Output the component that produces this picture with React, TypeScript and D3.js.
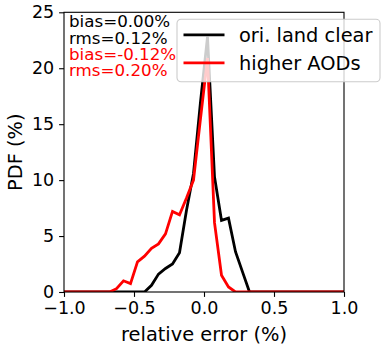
import * as React from "react";
import { useRef, useEffect } from "react";
import * as d3 from "d3";

// bin centre (relative error, %) and PDF (%) for each curve
const landX = [-1.0, -0.425, -0.375, -0.325, -0.275, -0.225, -0.175, -0.125, -0.075, -0.025, 0.025, 0.075, 0.125, 0.175, 0.225, 0.275, 0.325, 1.0];
const landPdf = [0, 0, 0.6, 1.6, 2.1, 2.5, 3.5, 7.3, 10.6, 17.0, 22.8, 10.3, 6.4, 6.6, 3.6, 1.8, 0, 0];

const aodX = [-1.0, -0.675, -0.625, -0.575, -0.525, -0.475, -0.425, -0.375, -0.325, -0.275, -0.225, -0.175, -0.125, -0.075, -0.025, 0.025, 0.075, 0.125, 0.175, 0.225, 1.0];
const aodPdf = [0, 0, 0.3, 1.0, 0.75, 2.7, 3.2, 3.9, 4.3, 5.2, 7.2, 6.9, 8.4, 10.0, 15.5, 20.9, 6.2, 1.5, 0.45, 0, 0];

const xTicks = [-1.0, -0.5, 0.0, 0.5, 1.0];
const yTicks = [0, 5, 10, 15, 20, 25];

const seriesNames = ["ori. land clear", "higher AODs"];
const seriesColors = ["black", "red"];
const statsLines = ["bias=0.00%", "rms=0.12%", "bias=-0.12%", "rms=0.20%"];
const statsColors = ["black", "black", "red", "red"];

const W = 388;
const H = 351;

export default function App() {
  const ref = useRef<SVGSVGElement>(null);

  useEffect(() => {
    const svg = d3.select(ref.current);
    svg.selectAll("*").remove();

    const margin = { top: 12.3, right: 44, bottom: 59, left: 64 };
    const width = W - margin.left - margin.right;
    const height = H - margin.top - margin.bottom;
    const font = "DejaVu Sans, sans-serif";

    const x = d3.scaleLinear().domain([-1, 1]).range([0, width]);
    const y = d3.scaleLinear().domain([0, 25]).range([height, 0]);

    svg.append("defs").append("clipPath").attr("id", "plot-clip")
      .append("rect").attr("width", width).attr("height", height);

    const g = svg.append("g").attr("transform", `translate(${margin.left},${margin.top})`);

    // curves
    const line = d3.line<[number, number]>().x((d) => x(d[0])).y((d) => y(d[1]));
    const series = [
      d3.zip(landX, landPdf) as [number, number][],
      d3.zip(aodX, aodPdf) as [number, number][],
    ];
    const plot = g.append("g").attr("clip-path", "url(#plot-clip)");
    series.forEach((s, i) => {
      plot.append("path")
        .datum(s)
        .attr("fill", "none")
        .attr("stroke", seriesColors[i])
        .attr("stroke-width", 2.8)
        .attr("stroke-linejoin", "miter")
        .attr("d", line);
    });

    // axes
    const fmt = (d: number) => d3.format(".1f")(d).replace("-", "\u2212");
    const xAxis = g.append("g")
      .attr("transform", `translate(0,${height})`)
      .call(d3.axisBottom(x).tickValues(xTicks).tickFormat(fmt as any).tickSize(4.9).tickPadding(4.9));
    const yAxis = g.append("g")
      .call(d3.axisLeft(y).tickValues(yTicks).tickSize(4.9).tickPadding(4.9));
    [xAxis, yAxis].forEach((a) => {
      a.select(".domain").remove();
      a.selectAll("line").attr("stroke", "black").attr("stroke-width", 1.1);
      a.selectAll("text").attr("font-family", font).attr("font-size", 17.5).attr("fill", "black");
    });

    // frame
    g.append("rect")
      .attr("width", width).attr("height", height)
      .attr("fill", "none").attr("stroke", "black").attr("stroke-width", 1.1);

    // axis labels
    svg.append("text")
      .attr("x", margin.left + width / 2).attr("y", 340.5)
      .attr("text-anchor", "middle")
      .attr("font-family", font).attr("font-size", 19.4)
      .text("relative error (%)");
    svg.append("text")
      .attr("transform", `translate(21.7,${margin.top + height / 2}) rotate(-90)`)
      .attr("text-anchor", "middle")
      .attr("font-family", font).attr("font-size", 19.4)
      .text("PDF (%)");

    // stats text
    statsLines.forEach((t, i) => {
      g.append("text")
        .attr("x", 5).attr("y", 15 + i * 16.3)
        .attr("font-family", font).attr("font-size", 16.7)
        .attr("fill", statsColors[i])
        .text(t);
    });

    // legend
    const lg = svg.append("g").attr("transform", "translate(177,19.3)");
    lg.append("rect")
      .attr("width", 203).attr("height", 62.4).attr("rx", 4)
      .attr("fill", "white").attr("fill-opacity", 0.8)
      .attr("stroke", "#cccccc").attr("stroke-width", 1.1);
    seriesNames.forEach((n, i) => {
      const yy = 15.5 + i * 28;
      lg.append("line")
        .attr("x1", 6.5).attr("x2", 47.5).attr("y1", yy).attr("y2", yy)
        .attr("stroke", seriesColors[i]).attr("stroke-width", 2.8);
      lg.append("text")
        .attr("x", 62).attr("y", yy + 7)
        .attr("font-family", font).attr("font-size", 19.4)
        .text(n);
    });
  }, []);

  return <svg ref={ref} width={W} height={H} style={{ display: "block", position: "absolute", left: 0, top: 0 }} />;
}
